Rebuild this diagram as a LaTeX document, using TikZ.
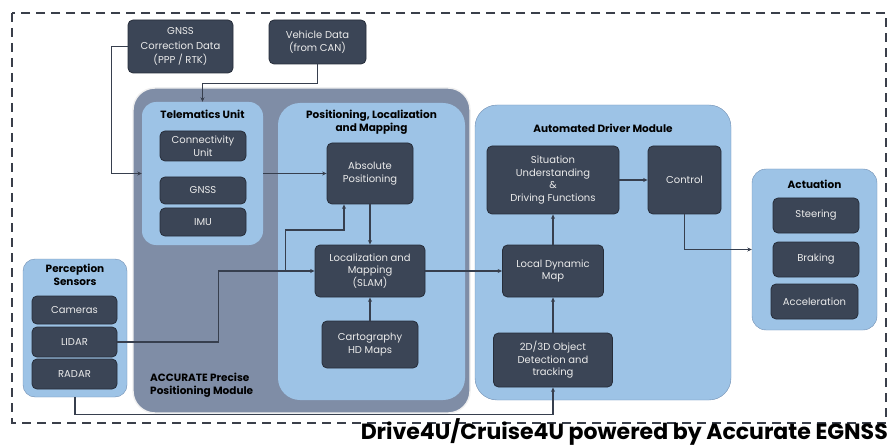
\documentclass[tikz,border=0pt]{standalone}
\usepackage{fontspec}
\setmainfont{Poppins}
\usetikzlibrary{positioning, arrows.meta}

\definecolor{boxdark}{RGB}{59,69,86}
\definecolor{boxedge}{RGB}{38,45,58}
\definecolor{lightblue}{RGB}{157,195,230}
\definecolor{modgray}{RGB}{127,141,166}
\definecolor{lineclr}{RGB}{55,63,78}
\definecolor{grpedge}{RGB}{112,142,178}
\definecolor{framegray}{RGB}{58,63,74}

\tikzset{
  sz/.style 2 args={minimum width=#1pt, minimum height=#2pt},
  unitbox/.style={draw=boxedge, fill=boxdark, rounded corners=5pt, line width=0.8pt,
    text=white!92!black, font=\fontsize{10}{12.5}\selectfont, align=center, inner sep=0pt},
  groupbox/.style={fill=lightblue, rounded corners=14pt, inner sep=0pt},
  modbox/.style={fill=modgray, draw=white!88!gray, line width=1.4pt, rounded corners=22pt, inner sep=0pt},
  grptitle/.style={font=\fontsize{10.5}{13}\selectfont\bfseries, align=center, inner sep=0pt},
  link/.style={draw=lineclr, line width=1.1pt, -{Stealth[length=4.5pt,width=4pt]}},
}

\begin{document}
\begin{tikzpicture}[x=1pt,y=-1pt]
\useasboundingbox (0,0) rectangle (890,446);

% dashed frame round the whole system
\draw[framegray, line width=2.6pt, dash pattern=on 9pt off 6pt] (12,13) rectangle (886,423);

% module backgrounds
\node[modbox, sz={337}{325}] (accmod) at (301.5,250.5) {};
\node[groupbox, sz={121}{143}] (telem) at (202.5,173.5) {};
\node[groupbox, rounded corners=22pt, sz={187}{297}] (plm) at (371.5,251.5) {};
\node[groupbox, draw=grpedge, rounded corners=22pt, sz={256}{295}] (adm) at (603,252.5) {};
\node[groupbox, draw=grpedge, rounded corners=12pt, sz={104}{138}] (perc) at (75,328) {};
\node[groupbox, draw=grpedge, sz={125}{161}] (act) at (814.5,249.5) {};

% module titles
\node[grptitle, below=8pt of telem.north] (telemtitle) {Telematics Unit};
\node[grptitle, below=7pt of plm.north] (plmtitle) {Positioning, Localization\\and Mapping};
\node[grptitle, below=19pt of adm.north] (admtitle) {Automated Driver Module};
\node[grptitle, below=11pt of act.north] (acttitle) {Actuation};
\node[grptitle, below=5pt of perc.north] (perctitle) {Perception\\Sensors};
\node[grptitle, anchor=north west, align=left] (acctitle) at (150,373)
  {ACCURATE Precise\\Positioning Module};

% inputs
\node[unitbox, font=\fontsize{10}{14.5}\selectfont, sz={105}{53}] (gnsscor) at (180.5,46.5)
  {GNSS\\Correction Data\\(PPP / RTK)};
\node[unitbox, sz={97}{44}] (vehdata) at (317.5,42) {Vehicle Data\\(from CAN)};

% telematics unit
\node[unitbox, sz={86}{30}] (conn) at (203,146) {Connectivity\\Unit};
\node[unitbox, sz={86}{27}] (gnss) at (203,190.5) {GNSS};
\node[unitbox, sz={86}{28}] (imu) at (203,222) {IMU};

% positioning, localization and mapping
\node[unitbox, sz={86}{61}] (abspos) at (370,173.5) {Absolute\\Positioning};
\node[unitbox, sz={110}{52}] (slam) at (370,271) {Localization and\\Mapping\\(SLAM)};
\node[unitbox, sz={96}{47}] (carto) at (370,344.5) {Cartography\\HD Maps};

% automated driver module
\node[unitbox, sz={132}{68}] (situ) at (553,180) {Situation\\Understanding\\\&\\Driving Functions};
\node[unitbox, sz={73}{68}] (ctrl) at (684.5,180) {Control};
\node[unitbox, sz={101}{52}] (ldm) at (553,271) {Local Dynamic\\Map};
\node[unitbox, sz={119}{54}] (det) at (553,360) {2D/3D Object\\Detection and\\tracking};

% actuation
\node[unitbox, sz={86}{35}] (steer) at (816,215.5) {Steering};
\node[unitbox, sz={86}{35}] (brake) at (816,259.5) {Braking};
\node[unitbox, sz={87}{35}] (accel) at (814.5,301.5) {Acceleration};

% perception sensors
\node[unitbox, sz={85}{28}] (cam) at (74.5,310) {Cameras};
\node[unitbox, sz={85}{30}] (lidar) at (74.5,342) {LIDAR};
\node[unitbox, sz={85}{30}] (radar) at (74.5,374) {RADAR};

% connectors
\coordinate (br) at ([xshift=-29pt]slam.west);
\draw[link] (gnsscor.west) -- ++(-16,0) |- (telem.west);
\draw[link] (vehdata.south) -- ++(0,19) -| (telem.north);
\draw[link] (telem.east) -- (abspos.west);
\draw[link] (abspos.south) -- (slam.north);
\draw[link] (carto.north) -- (slam.south);
\draw[link] (lidar.east) -- ++(101,0) |- (slam.west);
\draw[link] (br) -- ++(0,-41) -| ([xshift=-26pt]abspos.south);
\draw[link] (slam.east) -- (ldm.west);
\draw[link] (det.north) -- (ldm.south);
\draw[link] (ldm.north) -- (situ.south);
\draw[link] (situ.east) -- (ctrl.west);
\draw[link] (ctrl.south) |- (act.west);
\draw[link] (perc.south) -- ++(0,17) -| (det.south);

\node[anchor=base east, font=\fontsize{22}{26}\selectfont\bfseries, inner sep=0pt] (banner)
  at (888,439) {Drive4U/Cruise4U powered by Accurate EGNSS};
\end{tikzpicture}
\end{document}
